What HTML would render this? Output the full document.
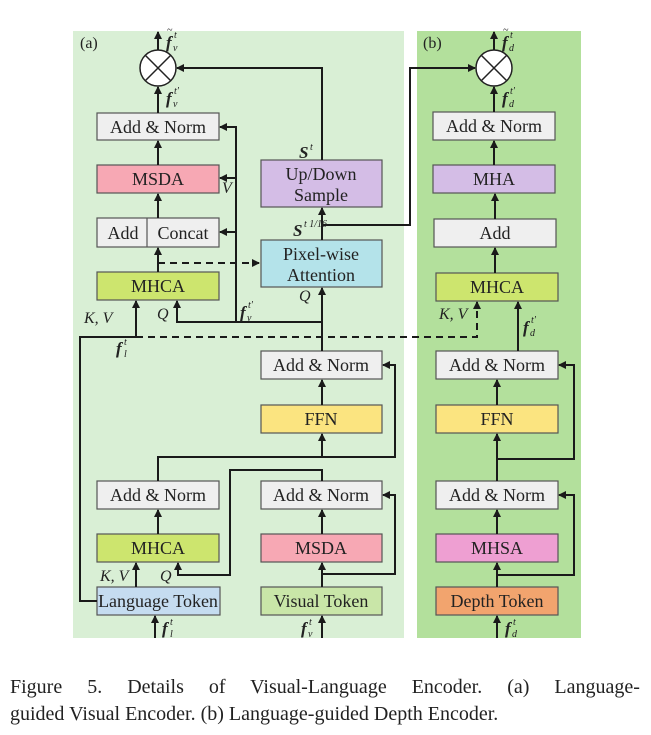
<!DOCTYPE html>
<html><head><meta charset="utf-8"><style>
body{margin:0;background:#fff}
svg{display:block}
text{font-family:"Liberation Serif",serif;fill:#222}
.b{stroke:#555;stroke-width:1.2}
.t{font-size:18px;text-anchor:middle}
.i{font-style:italic;font-size:16px}
.f{font-style:italic;font-weight:bold;font-size:17px}
.s{font-style:italic;font-size:10px}
.l{stroke:#1a1a1a;stroke-width:2;fill:none}
.d{stroke:#1a1a1a;stroke-width:2;fill:none;stroke-dasharray:7,5}
</style></head><body>
<svg width="651" height="735" viewBox="0 0 651 735">
<defs><marker id="a" markerWidth="8" markerHeight="8" refX="7" refY="4" orient="auto" markerUnits="userSpaceOnUse"><path d="M0,0 L8,4 L0,8 z" fill="#1a1a1a"/></marker></defs>
<rect x="73" y="31" width="331" height="607" fill="#d9efd5"/>
<rect x="417" y="31" width="164" height="607" fill="#b3e09c"/>
<text x="80" y="48" font-size="16">(a)</text>
<text x="423" y="48" font-size="16">(b)</text>

<rect class="b" x="97" y="113" width="122" height="27" fill="#efefef"/><text class="t" x="158" y="133">Add &amp; Norm</text>
<rect class="b" x="97" y="165" width="122" height="28" fill="#f7a8b4"/><text class="t" x="158" y="185">MSDA</text>
<rect class="b" x="97" y="218" width="122" height="29" fill="#efefef"/><line class="b" x1="147" y1="218" x2="147" y2="247"/><text class="t" x="123" y="239">Add</text><text class="t" x="183" y="239">Concat</text>
<rect class="b" x="97" y="272" width="122" height="28" fill="#cde56e"/><text class="t" x="158" y="292">MHCA</text>
<rect class="b" x="261" y="160" width="121" height="47" fill="#d4bde6"/><text class="t" x="321" y="180">Up/Down</text><text class="t" x="321" y="201">Sample</text>
<rect class="b" x="261" y="240" width="121" height="47" fill="#b4e3ea"/><text class="t" x="321" y="260">Pixel-wise</text><text class="t" x="321" y="281">Attention</text>
<rect class="b" x="261" y="351" width="121" height="28" fill="#efefef"/><text class="t" x="321" y="371">Add &amp; Norm</text>
<rect class="b" x="261" y="405" width="121" height="28" fill="#fbe480"/><text class="t" x="321" y="425">FFN</text>
<rect class="b" x="97" y="481" width="122" height="28" fill="#efefef"/><text class="t" x="158" y="501">Add &amp; Norm</text>
<rect class="b" x="261" y="481" width="121" height="28" fill="#efefef"/><text class="t" x="321" y="501">Add &amp; Norm</text>
<rect class="b" x="97" y="534" width="122" height="28" fill="#cde56e"/><text class="t" x="158" y="554">MHCA</text>
<rect class="b" x="261" y="534" width="121" height="28" fill="#f7a8b4"/><text class="t" x="321" y="554">MSDA</text>
<rect class="b" x="97" y="587" width="123" height="28" fill="#c5dcf0"/><text class="t" x="158" y="607">Language Token</text>
<rect class="b" x="261" y="587" width="121" height="28" fill="#c9e6a8"/><text class="t" x="321" y="607">Visual Token</text>
<circle cx="158" cy="68" r="18" fill="#fff" stroke="#222" stroke-width="1.5"/>
<path d="M145,55 L171,81 M171,55 L145,81" stroke="#222" stroke-width="1.5"/>

<rect class="b" x="433" y="112" width="122" height="28" fill="#efefef"/><text class="t" x="494" y="132">Add &amp; Norm</text>
<rect class="b" x="433" y="165" width="122" height="28" fill="#d4bde6"/><text class="t" x="494" y="185">MHA</text>
<rect class="b" x="434" y="219" width="122" height="28" fill="#efefef"/><text class="t" x="495" y="239">Add</text>
<rect class="b" x="436" y="273" width="122" height="28" fill="#cde56e"/><text class="t" x="497" y="293">MHCA</text>
<rect class="b" x="436" y="351" width="122" height="28" fill="#efefef"/><text class="t" x="497" y="371">Add &amp; Norm</text>
<rect class="b" x="436" y="405" width="122" height="28" fill="#fbe480"/><text class="t" x="497" y="425">FFN</text>
<rect class="b" x="436" y="481" width="122" height="28" fill="#efefef"/><text class="t" x="497" y="501">Add &amp; Norm</text>
<rect class="b" x="436" y="534" width="122" height="28" fill="#ee9fd2"/><text class="t" x="497" y="554">MHSA</text>
<rect class="b" x="436" y="587" width="122" height="28" fill="#f2a46e"/><text class="t" x="497" y="607">Depth Token</text>
<circle cx="494" cy="68" r="18" fill="#fff" stroke="#222" stroke-width="1.5"/>
<path d="M481,55 L507,81 M507,55 L481,81" stroke="#222" stroke-width="1.5"/>

<path class="l" d="M158,50 L158,32" marker-end="url(#a)"/>
<path class="l" d="M158,113 L158,87" marker-end="url(#a)"/>
<path class="l" d="M158,165 L158,141" marker-end="url(#a)"/>
<path class="l" d="M158,218 L158,194" marker-end="url(#a)"/>
<path class="l" d="M158,272 L158,248" marker-end="url(#a)"/>
<path class="d" d="M158,263 L259,263" marker-end="url(#a)"/>
<path class="l" d="M322,160 L322,68 L177,68" marker-end="url(#a)"/>
<path class="l" d="M322,240 L322,208" marker-end="url(#a)"/>
<path class="l" d="M322,225 L410,225 L410,68 L475,68" marker-end="url(#a)"/>
<path class="l" d="M322,351 L322,288" marker-end="url(#a)"/>
<path class="l" d="M322,322 L177,322 L177,301" marker-end="url(#a)"/>
<path class="l" d="M236,322 L236,127 L220,127" marker-end="url(#a)"/>
<path class="l" d="M236,178 L220,178" marker-end="url(#a)"/>
<path class="l" d="M236,232 L220,232" marker-end="url(#a)"/>
<path class="l" d="M97,601 L80,601 L80,337 L136,337 L136,301" marker-end="url(#a)"/>
<path class="d" d="M136,337 L477,337 L477,302" marker-end="url(#a)"/>
<path class="l" d="M322,405 L322,380" marker-end="url(#a)"/>
<path class="l" d="M158,481 L158,457 L395,457 L395,365 L383,365" marker-end="url(#a)"/>
<path class="l" d="M322,457 L322,434" marker-end="url(#a)"/>
<path class="l" d="M158,534 L158,510" marker-end="url(#a)"/>
<path class="l" d="M322,481 L322,470 L230,470 L230,575 L178,575 L178,563" marker-end="url(#a)"/>
<path class="l" d="M136,587 L136,563" marker-end="url(#a)"/>
<path class="l" d="M155,638 L155,616" marker-end="url(#a)"/>
<path class="l" d="M322,534 L322,510" marker-end="url(#a)"/>
<path class="l" d="M322,587 L322,563" marker-end="url(#a)"/>
<path class="l" d="M322,574 L395,574 L395,495 L383,495" marker-end="url(#a)"/>
<path class="l" d="M322,638 L322,616" marker-end="url(#a)"/>

<path class="l" d="M494,50 L494,32" marker-end="url(#a)"/>
<path class="l" d="M494,112 L494,87" marker-end="url(#a)"/>
<path class="l" d="M494,165 L494,141" marker-end="url(#a)"/>
<path class="l" d="M495,219 L495,194" marker-end="url(#a)"/>
<path class="l" d="M495,273 L495,248" marker-end="url(#a)"/>
<path class="l" d="M518,351 L518,302" marker-end="url(#a)"/>
<path class="l" d="M497,405 L497,380" marker-end="url(#a)"/>
<path class="l" d="M497,481 L497,434" marker-end="url(#a)"/>
<path class="l" d="M497,459 L574,459 L574,365 L559,365" marker-end="url(#a)"/>
<path class="l" d="M497,534 L497,510" marker-end="url(#a)"/>
<path class="l" d="M497,587 L497,563" marker-end="url(#a)"/>
<path class="l" d="M497,575 L574,575 L574,495 L559,495" marker-end="url(#a)"/>
<path class="l" d="M497,638 L497,616" marker-end="url(#a)"/>

<text class="f" x="166" y="48">f</text><text class="s" x="167" y="33" font-size="12">~</text><text class="s" x="174" y="38">t</text><text class="s" x="173" y="51">v</text>
<text class="f" x="166" y="104">f</text><text class="s" x="174" y="94">t′</text><text class="s" x="173" y="107">v</text>
<text class="f" x="299" y="158">S</text><text class="s" x="310" y="150">t</text>
<text class="f" x="293" y="236">S</text><text class="s" x="304" y="227">t 1/16</text>
<text class="i" x="222" y="193">V</text>
<text class="i" x="299" y="301">Q</text>
<text class="i" x="84" y="323">K, V</text>
<text class="i" x="157" y="319">Q</text>
<text class="f" x="240" y="318">f</text><text class="s" x="248" y="308">t′</text><text class="s" x="247" y="321">v</text>
<text class="f" x="116" y="354">f</text><text class="s" x="124" y="345">t</text><text class="s" x="124" y="357">l</text>
<text class="i" x="100" y="581">K, V</text>
<text class="i" x="160" y="581">Q</text>
<text class="f" x="162" y="634">f</text><text class="s" x="170" y="625">t</text><text class="s" x="170" y="637">l</text>
<text class="f" x="301" y="634">f</text><text class="s" x="309" y="625">t</text><text class="s" x="308" y="637">v</text>
<text class="f" x="502" y="48">f</text><text class="s" x="503" y="33" font-size="12">~</text><text class="s" x="510" y="38">t</text><text class="s" x="509" y="51">d</text>
<text class="f" x="502" y="104">f</text><text class="s" x="510" y="94">t′</text><text class="s" x="509" y="107">d</text>
<text class="i" x="439" y="319">K, V</text>
<text class="f" x="523" y="333">f</text><text class="s" x="531" y="323">t′</text><text class="s" x="530" y="336">d</text>
<text class="f" x="505" y="634">f</text><text class="s" x="513" y="625">t</text><text class="s" x="512" y="637">d</text>

<text x="10" y="693" font-size="20" word-spacing="20">Figure 5.  Details of Visual-Language Encoder.  (a) Language-</text>
<text x="10" y="720" font-size="20">guided Visual Encoder. (b) Language-guided Depth Encoder.</text>
</svg>
</body></html>
